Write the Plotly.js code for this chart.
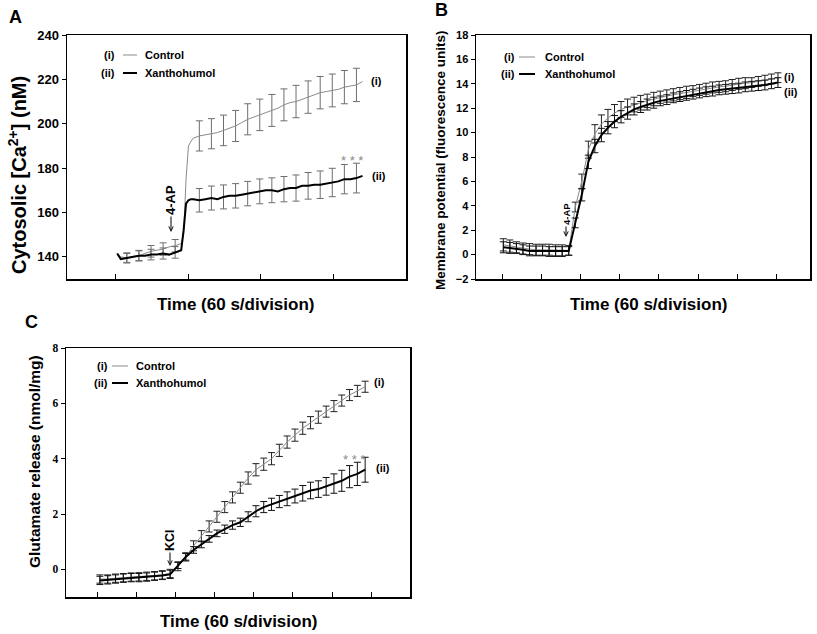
<!DOCTYPE html>
<html><head><meta charset="utf-8">
<script src="https://cdn.plot.ly/plotly-3.0.1.min.js"></script>
<style>html,body{margin:0;padding:0;background:#fff}#chart{width:817px;height:634px}</style>
</head><body><div id="chart"></div>
<script>
const _ = NaN; // no error bar drawn at this sample

// ---------- Panel A : cytosolic Ca2+ (nM) vs time (s) ----------
const aTime = [1,4,9,14,19,24,29,34,39,44,49,54,56,58,60,62,64,69,74,79,84,89,94,99,104,109,114,119,124,129,134,139,144,149,154,159,164,169,174,179,184,189,194,199,204];
const aControl = [141.5,140.0,139.5,140.2,140.5,141.5,142.5,143.0,143.5,144.5,145.0,146.0,150,175,190,192,193.5,194.5,195,195.5,196,197,198,199,200.5,202,203,204,205,206,207,208.5,209.5,210,211,212,213,214,214.5,215,215.5,216.5,217,217.5,219];
const aControlErr = [_,_,2.3,_,2.4,_,2.6,_,2.8,_,2.8,_,_,_,_,_,_,6.8,_,6.8,_,6.9,_,7.0,_,7.0,_,7.1,_,7.2,_,7.2,_,7.3,_,7.3,_,7.3,_,7.4,_,7.5,_,7.5,_];
const aXantho = [141.5,139.0,139.5,140.0,140.5,140.5,141.0,141.0,141.5,141.0,142.0,143.0,152,164,165.5,166,166,165.5,166,166.5,166,167,167.5,167.5,168,168.5,169,169.5,170,170,169.5,170.5,171,171,172,172,172.5,172.5,173,173.5,174,175,175,175.5,176.5];
const aXanthoErr = [_,_,2.0,_,2.2,_,2.4,_,2.5,_,2.6,_,_,_,_,_,_,5.3,_,5.4,_,5.4,_,5.5,_,5.5,_,5.6,_,5.6,_,5.7,_,5.9,_,6.0,_,6.2,_,6.4,_,6.6,_,6.7,_];
const aYTicks = [140,160,180,200,220,240];

// ---------- Panel B : membrane potential (fluorescence units) ----------
const bTime = [2,12,22,32,42,52,62,72,82,92,102,112,122,132,142,152,162,172,182,192,202,212,222,232,242,252,262,272,282,292,302,312,322,332,342,352,362,372,382,392,402,412,422];
const bControl = [0.8,0.7,0.6,0.5,0.45,0.4,0.4,0.4,0.35,0.35,0.35,3.9,6.0,8.6,9.9,10.7,11.2,11.6,11.9,12.1,12.3,12.45,12.6,12.75,12.9,13.0,13.1,13.2,13.3,13.4,13.5,13.6,13.7,13.75,13.8,13.9,14.0,14.05,14.1,14.2,14.3,14.4,14.5];
const bControlErr = [0.5,0.5,0.45,0.45,0.45,0.45,0.45,0.45,0.45,0.45,0.4,0.4,0.6,0.7,0.75,0.75,0.7,0.7,0.65,0.65,0.6,0.6,0.55,0.55,0.5,0.5,0.5,0.5,0.5,0.45,0.45,0.45,0.45,0.45,0.45,0.45,0.45,0.45,0.4,0.4,0.4,0.4,0.4];
const bXantho = [0.6,0.55,0.5,0.4,0.3,0.3,0.3,0.25,0.25,0.25,0.3,2.6,4.9,7.6,8.9,9.8,10.4,10.9,11.3,11.6,11.9,12.1,12.3,12.45,12.6,12.7,12.85,12.95,13.05,13.15,13.25,13.35,13.4,13.5,13.55,13.6,13.65,13.75,13.8,13.85,13.9,14.0,14.1];
const bXanthoErr = [0.45,0.45,0.4,0.4,0.4,0.4,0.4,0.4,0.4,0.4,0.35,0.4,0.5,0.55,0.55,0.55,0.5,0.5,0.5,0.5,0.45,0.45,0.45,0.45,0.4,0.4,0.4,0.4,0.4,0.4,0.4,0.4,0.4,0.4,0.4,0.4,0.4,0.4,0.4,0.4,0.4,0.4,0.4];
const bYTicks = [-2,0,2,4,6,8,10,12,14,16,18];

// ---------- Panel C : glutamate release (nmol/mg) ----------
const cTime = [3,15,27,39,51,63,75,87,99,111,123,135,147,159,171,183,195,207,219,231,243,255,267,279,291,303,315,327,339,351,363,375,387,399,411];
const cControl = [-0.35,-0.35,-0.32,-0.3,-0.28,-0.27,-0.25,-0.23,-0.2,-0.15,0.1,0.45,0.85,1.2,1.55,1.9,2.25,2.6,2.95,3.3,3.6,3.8,4.0,4.3,4.6,4.85,5.1,5.3,5.5,5.7,5.9,6.1,6.3,6.45,6.6];
const cControlErr = [0.15,0.15,0.15,0.15,0.15,0.15,0.15,0.15,0.15,0.15,0.15,0.15,0.18,0.2,0.2,0.2,0.2,0.2,0.2,0.22,0.22,0.22,0.22,0.22,0.22,0.22,0.22,0.22,0.22,0.2,0.2,0.2,0.2,0.2,0.2];
const cXantho = [-0.4,-0.38,-0.35,-0.32,-0.3,-0.3,-0.28,-0.25,-0.22,-0.18,0.15,0.45,0.7,0.9,1.1,1.3,1.45,1.6,1.7,1.9,2.1,2.25,2.35,2.45,2.55,2.65,2.75,2.85,2.9,3.0,3.1,3.2,3.35,3.45,3.6];
const cXanthoErr = [0.15,0.15,0.15,0.15,0.15,0.15,0.15,0.15,0.15,0.15,0.12,0.12,0.12,0.12,0.12,0.12,0.15,0.15,0.15,0.18,0.2,0.2,0.22,0.22,0.25,0.25,0.28,0.3,0.3,0.32,0.35,0.38,0.4,0.42,0.45];
const cYTicks = [0,2,4,6,8];

const divisionTicks = [0,60,120,180,240,300,360,420];
const seriesNames = ['Control','Xanthohumol'];

// ---------- styling / layout ----------
const W = 817, H = 634;
const PX = x => x / W, PY = y => 1 - y / H;
const SANS = 'Liberation Sans, Arial, sans-serif';
const SERIF = 'Liberation Serif, Times New Roman, serif';
const GRAY = '#8a8a8a';

function line(x, y, err, xa, ya, isCtrl, errColor, capW) {
  return {
    x: x, y: y, xaxis: xa, yaxis: ya, type: 'scatter', mode: 'lines',
    name: isCtrl ? seriesNames[0] : seriesNames[1],
    line: {color: isCtrl ? GRAY : '#000', width: isCtrl ? 1 : 2},
    error_y: {type: 'data', array: err, visible: true, color: errColor, thickness: 1, width: capW},
    hoverinfo: 'skip'
  };
}

const traces = [
  line(aTime, aControl, aControlErr, 'x', 'y', true, '#6e6e6e', 3.5),
  line(aTime, aXantho, aXanthoErr, 'x', 'y', false, '#6e6e6e', 3.5),
  line(bTime, bControl, bControlErr, 'x2', 'y2', true, '#222', 3.5),
  line(bTime, bXantho, bXanthoErr, 'x2', 'y2', false, '#111', 3.5),
  line(cTime, cControl, cControlErr, 'x3', 'y3', true, '#222', 3.5),
  line(cTime, cXantho, cXanthoErr, 'x3', 'y3', false, '#111', 3.5)
];

function xax(l, r, range, anchor) {
  return {domain: [PX(l), PX(r)], range: range, anchor: anchor, tickvals: divisionTicks,
    ticks: 'inside', ticklen: 5, tickwidth: 1, tickcolor: '#000', showticklabels: false,
    showline: true, linecolor: '#000', linewidth: 1.5, mirror: true,
    showgrid: false, zeroline: false, fixedrange: true};
}
function yax(top, bottom, range, anchor, ticks, font) {
  return {domain: [PY(bottom), PY(top)], range: range, anchor: anchor, tickvals: ticks,
    ticks: 'outside', ticklen: 4, tickwidth: 1, tickcolor: '#000', tickfont: font,
    showline: true, linecolor: '#000', linewidth: 1.5, mirror: true,
    showgrid: false, zeroline: false, fixedrange: true};
}

const annotations = [];
function txt(text, x, y, size, opts) {
  annotations.push(Object.assign({text: text, xref: 'paper', yref: 'paper', x: PX(x), y: PY(y),
    showarrow: false, xanchor: 'center', yanchor: 'middle',
    font: {family: SANS, size: size, color: '#000', weight: 'bold'}}, opts || {}));
}
function arrowLabel(text, x, yHead, dy, size) {
  annotations.push({text: text, xref: 'paper', yref: 'paper', x: PX(x), y: PY(yHead),
    showarrow: true, ax: 0, ay: -dy, arrowhead: 5, arrowsize: 0.9, arrowwidth: 1, arrowcolor: '#000',
    textangle: -90, font: {family: SANS, size: size, color: '#000', weight: 'bold'}});
}

// panel letters
txt('A', 15, 17, 18); txt('B', 441, 10, 18); txt('C', 31, 322, 18);
// axis titles
txt('Cytosolic [Ca<sup>2+</sup>] (nM)', 17, 175, 20, {textangle: -90});
txt('Membrane potential (fluorescence units)', 440, 160, 13.5, {textangle: -90});
txt('Glutamate release (nmol/mg)', 34, 462, 15.5, {textangle: -90});
txt('Time (60 s/division)', 236, 304, 17);
txt('Time (60 s/division)', 648, 304, 17);
txt('Time (60 s/division)', 238, 621, 17);
// legends
const shapes = [];
function legend(xr, xl1, xl2, xt, y1, y2) {
  txt('(i)', xr, y1, 11, {xanchor: 'right'});
  txt('(ii)', xr, y2, 11, {xanchor: 'right'});
  txt(seriesNames[0], xt, y1, 11, {xanchor: 'left'});
  txt(seriesNames[1], xt, y2, 11, {xanchor: 'left'});
  shapes.push({type: 'line', xref: 'paper', yref: 'paper', x0: PX(xl1), x1: PX(xl2), y0: PY(y1), y1: PY(y1), line: {color: GRAY, width: 1}});
  shapes.push({type: 'line', xref: 'paper', yref: 'paper', x0: PX(xl1), x1: PX(xl2), y0: PY(y2), y1: PY(y2), line: {color: '#000', width: 2}});
}
legend(117, 123, 137, 143, 55, 73);
legend(517, 519, 535, 543, 57, 74);
legend(110, 112, 128, 134, 366, 383);
// end-of-curve labels
txt('(i)', 369, 81, 11, {xanchor: 'left'}); txt('(ii)', 370, 176, 11, {xanchor: 'left'});
txt('(i)', 782, 77, 11, {xanchor: 'left'}); txt('(ii)', 782, 92, 11, {xanchor: 'left'});
txt('(i)', 372, 382, 11, {xanchor: 'left'}); txt('(ii)', 374, 468, 11, {xanchor: 'left'});
// significance
txt('* * *', 352, 160, 13, {font: {family: SANS, size: 13, color: '#8a8a8a'}});
txt('* * *', 354, 459, 13, {font: {family: SANS, size: 13, color: '#8a8a8a'}});
// stimulus arrows
arrowLabel('4-AP', 171, 232, 32, 13);
arrowLabel('4-AP', 566, 237, 23, 9.5);
arrowLabel('KCl', 170, 566, 26, 12.5);

const layout = {
  width: W, height: H, margin: {l: 0, r: 0, t: 0, b: 0},
  paper_bgcolor: '#fff', plot_bgcolor: '#fff', showlegend: false,
  xaxis: xax(67, 406, [-40.5, 240], 'y'),
  yaxis: yax(35, 279, [130, 240], 'x', aYTicks, {family: SANS, size: 13, color: '#000', weight: 'bold'}),
  xaxis2: xax(476, 810, [-39.8, 471], 'y2'),
  yaxis2: yax(35, 279, [-2, 18], 'x2', bYTicks, {family: SANS, size: 11, color: '#000', weight: 'bold'}),
  xaxis3: xax(66, 410, [-49.2, 480], 'y3'),
  yaxis3: yax(348, 597, [-1, 8], 'x3', cYTicks, {family: SERIF, size: 11.5, color: '#000', weight: 'bold'}),
  annotations: annotations, shapes: shapes
};

Plotly.newPlot('chart', traces, layout, {displayModeBar: false, staticPlot: true});
</script>
</body></html>
